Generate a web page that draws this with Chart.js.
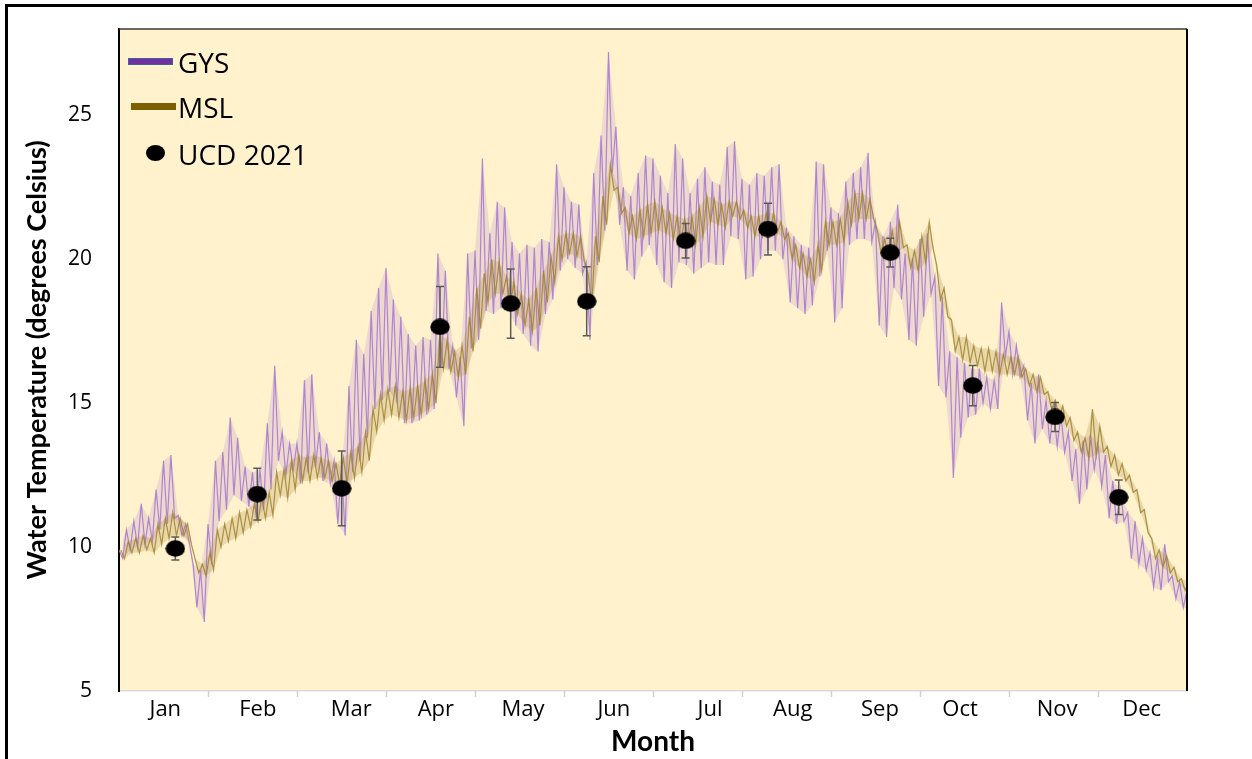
<!DOCTYPE html>
<html>
<head>
<meta charset="utf-8">
<script src="https://cdn.jsdelivr.net/npm/chart.js@4.4.0/dist/chart.umd.min.js"></script>
<style>
  body { margin: 0; background: #fff; }
  #wrap { position: relative; width: 1252px; height: 759px; overflow: hidden; background: #fff; }
  #chart { position: absolute; left: 0; top: 0; }
  #frame { position: absolute; left: 5px; top: 4px; width: 1300px; height: 800px;
           border-top: 3px solid #000; border-left: 3px solid #000; pointer-events: none; }
  .lg-text { position: absolute; left: 178px; height: 30px; line-height: 30px;
             font-family: "Open Sans", sans-serif; font-size: 28px; color: #000; white-space: nowrap; }
  .lg-swatch { position: absolute; height: 7px; width: 45px; }
  .lg-dot { position: absolute; width: 19px; height: 16px; border-radius: 50%; background: #000; }
</style>
</head>
<body>
<div id="wrap">
  <canvas id="chart" width="1252" height="759"></canvas>
  <div id="frame"></div>
  <div class="lg-swatch" style="left:128px;top:58px;background:#7030a0;border:1px solid #3f5f9f;box-sizing:border-box;"></div>
  <div class="lg-text" style="top:47px;">GYS</div>
  <div class="lg-swatch" style="left:131px;top:103px;background:#7f6000;"></div>
  <div class="lg-text" style="top:92px;">MSL</div>
  <div class="lg-dot" style="left:146px;top:145px;"></div>
  <div class="lg-text" style="top:139px;">UCD 2021</div>
</div>
<script>
// x axis runs in months (0 = start of Jan, 12 = end of Dec)
const months = ['Jan', 'Feb', 'Mar', 'Apr', 'May', 'Jun', 'Jul', 'Aug', 'Sep', 'Oct', 'Nov', 'Dec'];
const monthLabelPos = [0.52, 1.56, 2.61, 3.56, 4.54, 5.56, 6.64, 7.57, 8.55, 9.45, 10.54, 11.49];
const yTicks = [5, 10, 15, 20, 25];
const samplesPerMonth = 12;

// daily high / low envelope, 12 readings per month
const gysHigh = [
  9.9, 10.6, 10.9, 11.5, 11.0, 12.0, 13.0, 13.2, 11.1, 10.8, 9.4, 9.2,
  10.8, 13.0, 13.3, 14.5, 13.8, 12.8, 12.6, 12.7, 14.3, 16.3, 14.0, 13.6,
  13.6, 15.8, 16.0, 14.0, 13.6, 13.0, 12.8, 15.6, 17.2, 16.7, 18.2, 19.0,
  19.7, 18.6, 18.0, 17.4, 17.0, 17.3, 17.2, 20.2, 19.6, 17.0, 16.6, 20.2,
  20.3, 23.5, 20.9, 22.0, 21.8, 20.6, 20.2, 20.5, 20.4, 20.7, 20.6, 23.3,
  22.5, 22.0, 21.9, 19.9, 23.0, 24.3, 27.2, 24.6, 22.5, 22.2, 23.0, 23.6,
  23.5, 22.9, 22.3, 24.0, 23.5, 22.3, 22.8, 23.2, 22.7, 22.6, 23.9, 24.1,
  22.8, 22.6, 23.0, 22.9, 23.2, 23.3, 21.1, 20.8, 20.5, 20.4, 23.4, 23.3,
  21.8, 21.6, 22.7, 23.0, 23.2, 23.7, 21.3, 20.8, 21.3, 21.9, 20.2, 20.0,
  20.7, 20.9, 19.4, 18.7, 16.8, 16.6, 16.4, 16.2, 16.2, 15.9, 15.8, 18.5,
  17.5, 17.0, 16.3, 15.7, 16.0, 15.1, 14.9, 14.6, 14.0, 13.4, 13.7, 13.9,
  13.6, 13.2, 12.3, 12.0, 11.2, 10.9, 10.3, 9.8, 9.6, 10.1, 9.0, 8.8,
  8.5
];
const gysLow = [
  9.6, 9.9, 10.0, 10.1, 10.2, 10.6, 10.8, 11.0, 10.4, 10.1, 7.9, 7.4,
  9.4, 10.9, 11.3, 11.8, 11.6, 11.4, 11.0, 11.3, 12.0, 13.0, 12.5, 12.7,
  12.2, 12.6, 12.8, 12.3, 12.2, 10.8, 10.4, 12.6, 13.0, 13.8, 14.8, 15.1,
  15.4, 15.0, 14.3, 14.3, 14.4, 14.6, 14.8, 16.3, 16.2, 15.2, 14.2, 16.9,
  17.2, 18.2, 18.1, 18.3, 18.2, 17.7, 17.4, 17.0, 16.8, 18.1, 18.6, 19.6,
  20.0, 19.7, 19.5, 17.2, 19.8, 21.0, 23.0, 21.2, 19.6, 19.3, 20.1, 20.5,
  19.8, 19.2, 19.0, 19.9, 19.8, 19.5, 19.7, 19.9, 19.8, 19.8, 20.8, 20.7,
  19.3, 19.4, 20.0, 20.3, 20.3, 20.0, 18.5, 18.3, 18.1, 18.4, 19.4, 20.3,
  17.8, 18.3, 20.5, 20.7, 20.7, 20.6, 17.7, 17.3, 19.0, 18.6, 17.2, 17.0,
  18.0, 18.8, 15.6, 15.2, 12.4, 13.8, 14.5, 14.6, 15.0, 14.8, 14.8, 16.6,
  16.0, 15.9, 14.4, 13.6, 14.1, 13.6, 13.5, 13.3, 12.3, 11.5, 12.0, 12.7,
  12.1, 11.0, 10.8, 10.9, 9.6, 9.4, 9.2, 8.6, 8.5, 8.8, 8.2, 7.9,
  7.8
];
const mslHigh = [
  9.9, 10.2, 10.3, 10.4, 10.3, 10.8, 11.0, 11.2, 11.0, 10.8, 9.6, 9.4,
  9.8, 10.6, 10.8, 11.0, 11.2, 11.3, 11.5, 11.7, 11.9, 12.6, 12.7, 13.0,
  13.2, 13.1, 13.2, 13.1, 13.0, 12.9, 13.1, 13.3, 13.5, 14.0, 14.8, 15.3,
  15.5, 15.6, 15.4, 15.5, 15.6, 15.8, 16.0, 17.4, 17.2, 16.8, 17.0, 18.0,
  19.0, 19.5, 20.0, 19.9, 19.4, 19.2, 18.8, 18.6, 19.0, 19.6, 20.1, 20.8,
  20.9, 20.9, 20.8, 19.5, 20.8, 22.2, 23.3, 22.5, 21.8, 21.5, 21.7, 21.9,
  22.0, 21.8, 21.6, 21.5, 21.4, 21.5, 21.8, 22.2, 22.1, 21.9, 22.0, 22.0,
  21.7, 21.5, 21.5, 21.6, 21.6, 21.3, 20.9, 20.5, 20.2, 20.0, 20.5, 21.3,
  21.3, 21.4, 22.0, 22.3, 22.3, 22.1, 21.0, 20.7, 21.0, 21.3, 20.5, 20.3,
  20.8, 21.3, 19.8, 19.0, 17.9, 17.3, 17.3, 17.0, 16.9, 16.9, 16.8, 16.7,
  16.6, 16.6, 16.2, 16.0, 15.9, 15.4, 15.1, 14.9, 14.5, 14.0, 13.8, 14.8,
  14.2, 13.5, 13.2, 12.9, 12.5, 12.0, 11.3, 10.3, 9.9, 9.7, 9.3, 8.9,
  8.8
];
const mslLow = [
  9.6, 9.8, 9.8, 9.9, 9.8, 10.1, 10.3, 10.4, 10.4, 10.1, 9.1, 9.0,
  9.2, 10.0, 10.2, 10.3, 10.5, 10.7, 10.9, 11.0, 11.1, 11.8, 11.7, 12.0,
  12.3, 12.3, 12.4, 12.4, 12.3, 12.2, 12.2, 12.4, 12.6, 13.0, 14.0, 14.4,
  14.6, 14.5, 14.4, 14.5, 14.6, 14.8, 15.0, 16.2, 16.1, 15.9, 16.0, 16.8,
  17.6, 18.5, 18.8, 18.8, 18.4, 18.1, 17.7, 17.5, 17.7, 18.5, 19.2, 20.0,
  20.2, 20.1, 19.9, 18.4, 19.9, 21.2, 22.4, 21.6, 20.9, 20.7, 20.8, 20.9,
  21.0, 20.9, 20.7, 20.6, 20.5, 20.5, 20.8, 21.3, 21.2, 21.1, 21.5, 21.4,
  21.1, 20.8, 20.8, 20.9, 20.9, 20.7, 20.0, 19.7, 19.4, 19.2, 19.6, 20.5,
  20.5, 20.6, 21.2, 21.4, 21.4, 21.4, 20.2, 20.0, 20.2, 20.4, 19.7, 19.6,
  19.9, 20.4, 18.6, 18.0, 16.8, 16.5, 16.4, 16.3, 16.1, 16.1, 16.0, 16.0,
  16.0, 15.9, 15.6, 15.4, 15.3, 14.8, 14.5, 14.2, 13.7, 13.3, 13.1, 13.2,
  13.3, 12.8, 12.5, 12.3, 11.9, 11.2, 10.5, 9.6, 9.3, 9.1, 8.8, 8.5,
  8.4
];

// UCD 2021 field samples: position (months), mean and error
const ucdX = [0.633, 1.554, 2.502, 3.607, 4.401, 5.255, 6.367, 7.292, 8.666, 9.592, 10.517, 11.233];
const ucdTemp = [9.95, 11.84, 12.04, 17.65, 18.46, 18.54, 20.64, 21.05, 20.23, 15.61, 14.52, 11.73];
const ucdErr = [0.4, 0.9, 1.3, 1.4, 1.2, 1.2, 0.6, 0.9, 0.5, 0.7, 0.5, 0.6];

function zigzag(high, low, shift) {
    const pts = [];
    high.forEach((h, i) => {
        pts.push({ x: (i + shift) / samplesPerMonth, y: h });
        pts.push({ x: (i + shift + 0.5) / samplesPerMonth, y: low[i] });
    });
    return pts;
}

function envelope(values, shift) {
    return values.map((v, i) => ({ x: (i + shift) / samplesPerMonth, y: v }));
}

// the sample markers are slightly wider than tall
const dotImg = document.createElement('canvas');
dotImg.width = 20; dotImg.height = 17;
(() => {
    const c = dotImg.getContext('2d');
    c.fillStyle = '#000';
    c.beginPath();
    c.ellipse(10, 8.5, 9.7, 8.2, 0, 0, Math.PI * 2);
    c.fill();
})();

const plotFrame = {
    id: 'plotFrame',
    beforeDraw(chart) {
        const { ctx, chartArea: a } = chart;
        ctx.save();
        ctx.fillStyle = '#fff2cc';
        ctx.fillRect(a.left, a.top, a.right - a.left, a.bottom - a.top);
        ctx.restore();
    },
    afterDatasetsDraw(chart) {
        const { ctx, chartArea: a, scales: { x } } = chart;
        ctx.save();
        // top and right border of the plot area
        ctx.strokeStyle = '#3a3a3a';
        ctx.lineWidth = 1.5;
        ctx.beginPath();
        ctx.moveTo(a.left, a.top); ctx.lineTo(a.right, a.top);
        ctx.stroke();
        ctx.strokeStyle = '#000';
        ctx.lineWidth = 2;
        ctx.beginPath();
        ctx.moveTo(a.right, a.top); ctx.lineTo(a.right, a.bottom);
        ctx.stroke();
        // month boundary tick marks
        ctx.strokeStyle = '#d0d0d0';
        ctx.lineWidth = 1.5;
        for (let k = 1; k < 12; k++) {
            const px = Math.round(x.getPixelForValue(k)) + 0.5;
            ctx.beginPath();
            ctx.moveTo(px, a.bottom); ctx.lineTo(px, a.bottom + 6);
            ctx.stroke();
        }
        ctx.restore();
    }
};

const errorBars = {
    id: 'errorBars',
    beforeDatasetDraw(chart, args) {
        if (chart.data.datasets[args.index].label !== 'UCD 2021') return;
        const { ctx, scales: { x, y } } = chart;
        ctx.save();
        ctx.strokeStyle = '#5a5a5a';
        ctx.lineWidth = 1.5;
        ucdTemp.forEach((t, i) => {
            const px = x.getPixelForValue(ucdX[i]);
            const top = y.getPixelForValue(t + ucdErr[i]);
            const bot = y.getPixelForValue(t - ucdErr[i]);
            ctx.beginPath();
            ctx.moveTo(px, top); ctx.lineTo(px, bot);
            ctx.moveTo(px - 4, top); ctx.lineTo(px + 4, top);
            ctx.moveTo(px - 4, bot); ctx.lineTo(px + 4, bot);
            ctx.stroke();
        });
        ctx.restore();
    }
};

const bandStyle = { borderWidth: 0, pointRadius: 0, tension: 0 };

new Chart(document.getElementById('chart'), {
    type: 'line',
    data: {
        datasets: [
            { label: 'GYS band', data: envelope(gysHigh, 0), fill: '+1',
              backgroundColor: 'rgba(180, 140, 215, 0.24)', order: 7, ...bandStyle },
            { label: 'GYS band low', data: envelope(gysLow, 0.5), fill: false, order: 7, ...bandStyle },
            {
                label: 'GYS',
                data: zigzag(gysHigh, gysLow, 0),
                borderColor: 'rgba(165, 118, 205, 0.85)',
                borderWidth: 1.2,
                pointRadius: 0,
                tension: 0,
                order: 6
            },
            { label: 'MSL band', data: envelope(mslHigh, 0.25), fill: '+1',
              backgroundColor: 'rgba(170, 140, 60, 0.25)', order: 5, ...bandStyle },
            { label: 'MSL band low', data: envelope(mslLow, 0.75), fill: false, order: 5, ...bandStyle },
            {
                label: 'MSL',
                data: zigzag(mslHigh, mslLow, 0.25),
                borderColor: 'rgba(160, 130, 50, 0.85)',
                borderWidth: 1.2,
                pointRadius: 0,
                tension: 0,
                order: 4
            },
            {
                label: 'UCD 2021',
                data: ucdX.map((v, i) => ({ x: v, y: ucdTemp[i] })),
                showLine: false,
                pointStyle: dotImg,
                pointRadius: 9,
                order: 1
            }
        ]
    },
    options: {
        responsive: false,
        animation: false,
        devicePixelRatio: 1,
        layout: { padding: { left: 0, right: 65, top: 29, bottom: 0 } },
        plugins: { legend: { display: false }, tooltip: { enabled: false } },
        scales: {
            x: {
                type: 'linear', min: 0, max: 12,
                afterBuildTicks: axis => { axis.ticks = monthLabelPos.map(v => ({ value: v })); },
                afterFit: axis => { axis.height = 68; axis.paddingLeft = 0; axis.paddingRight = 0; },
                grid: { display: false, drawTicks: false },
                border: { color: '#d9d9d9', width: 1.5 },
                ticks: {
                    autoSkip: false, maxRotation: 0, padding: 6, color: '#000',
                    font: { family: 'Open Sans', size: 22 },
                    callback: (v, i) => months[i]
                },
                title: {
                    display: true, text: 'Month', color: '#000',
                    font: { family: 'Lato', size: 28, weight: 'bold' },
                    padding: { top: 0, bottom: 0 }
                }
            },
            y: {
                min: 5, max: 28,
                afterBuildTicks: axis => { axis.ticks = yTicks.map(v => ({ value: v })); },
                afterFit: axis => { axis.width = 119; axis.paddingTop = 0; axis.paddingBottom = 0; },
                grid: { display: false, drawTicks: false },
                border: { color: '#000', width: 2 },
                ticks: {
                    padding: 27, color: '#000',
                    font: { family: 'Open Sans', size: 21 }
                },
                title: {
                    display: true, text: 'Water Temperature (degrees Celsius)', color: '#000',
                    font: { family: 'Lato', size: 27, weight: 'bold' },
                    padding: { top: 21, bottom: 0 }
                }
            }
        }
    },
    plugins: [plotFrame, errorBars]
});
</script>
</body>
</html>
